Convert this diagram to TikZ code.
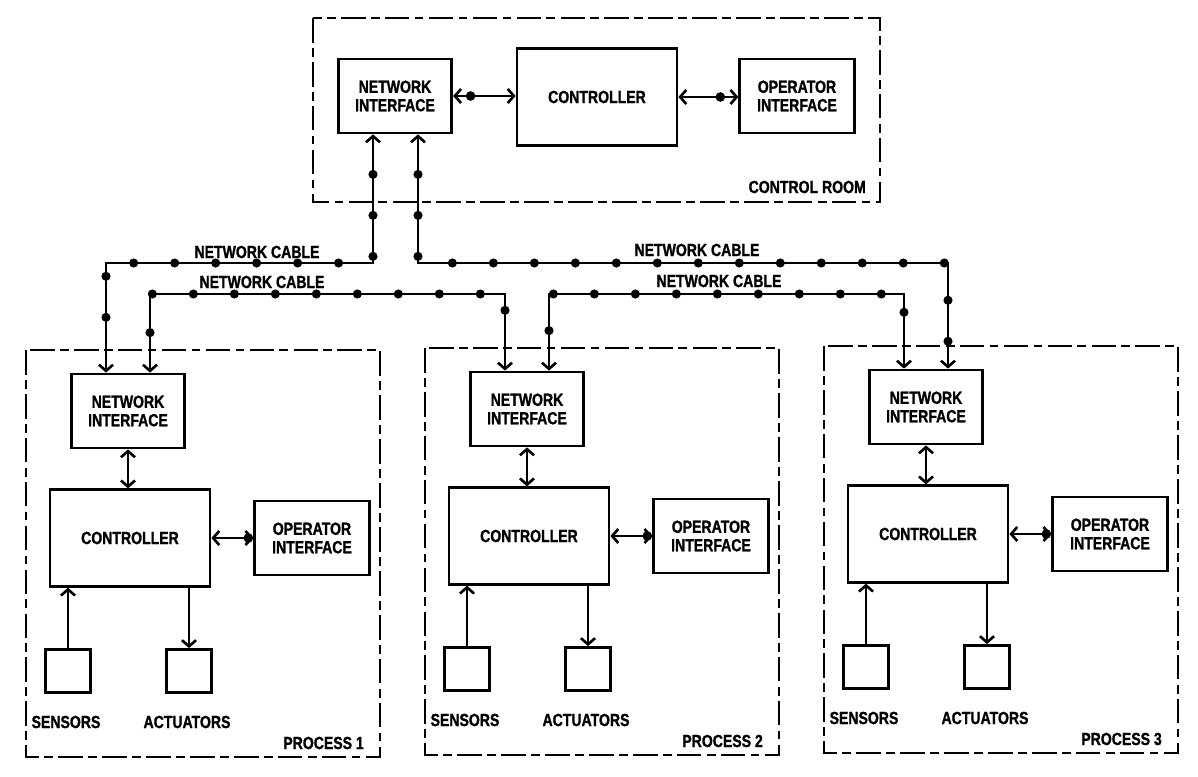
\documentclass[tikz,border=0pt]{standalone}
\usepackage{fontspec}
\setmainfont{Liberation Sans Bold}[FakeStretch=0.8, FakeBold=1.2]
\usepackage{tikz}
\usetikzlibrary{calc}
\usetikzlibrary{arrows.meta}
\usetikzlibrary{decorations.markings}

\begin{document}
\begin{tikzpicture} [x = 0.02cm, y = -0.02cm,
    >={Straight Barb[length=3.5pt,width=8pt]},
    every node/.style = {font = \fontsize{10}{10.5}\selectfont},
    blk/.style = {draw, line width = 1.6pt, align = center, inner sep = 0pt},
    ni/.style = {blk, minimum width = 2.27cm, minimum height = 1.48cm},
    ctrl/.style = {blk, minimum width = 3.2cm, minimum height = 1.93cm},
    oi/.style = {blk, minimum width = 2.29cm, minimum height = 1.48cm},
    io/.style = {blk, minimum width = 0.91cm, minimum height = 0.86cm},
    area/.style = {draw, line width = 1.5pt, dash pattern = on 14pt off 3pt on 5pt off 3pt},
    link/.style = {<->, line width = 1.5pt},
    feed/.style = {->, line width = 1.5pt},
    dot/.style = {circle, fill, inner sep = 0pt, minimum size = 5.5pt},
    cable/.style = {<->, line width = 1.5pt, postaction = {decorate},
      decoration = {markings, mark = between positions 0.8cm and -0.5cm step 0.82cm
        with {\fill circle [radius = 2.6pt];}}}]
    \useasboundingbox (0,0) rectangle (1198,777);

    % control room
    \draw [area] (313,18) rectangle (880,202);
    \node [ni] (ni0) at (395,96) {NETWORK\\INTERFACE};
    \node [ctrl] (ct0) at (597,97) {CONTROLLER};
    \node [oi] (oi0) at (797,96) {OPERATOR\\INTERFACE};
    \node [anchor = east] (crl) at (872,187) {CONTROL ROOM};
    \draw [link] (ni0.east) -- node [dot, pos = 0.28] {} (ni0.east -| ct0.west);
    \draw [link] (ct0.east) -- node [dot, pos = 0.7] {} (ct0.east -| oi0.west);
    \coordinate (ca0) at ($(ni0.south)+(-22,0)$);
    \coordinate (cb0) at ($(ni0.south)+(23,0)$);

    % processes
    \foreach \i/\dx/\dy in {1/0/0, 2/399/-2, 3/798/-4} {
      \begin{scope}[shift = {(\dx,\dy)}]
        \draw [area] (26,350) rectangle (380,757);
        \node [ni] (ni\i) at (128,411) {NETWORK\\INTERFACE};
        \node [ctrl] (ct\i) at (130,538) {CONTROLLER};
        \node [oi] (oi\i) at (312,538) {OPERATOR\\INTERFACE};
        \node [io] (se\i) at (68,671) {};
        \node [io] (ac\i) at (189,671) {};
        \node (sl\i) at (66,722) {SENSORS};
        \node (al\i) at (187,722) {ACTUATORS};
        \node [anchor = east] (pl\i) at (370,743) {PROCESS \i};
        \draw [link] (ni\i.south) -- (ni\i.south |- ct\i.north);
        \draw [link] (ct\i.east) -- node [dot, pos = 0.88] {} (oi\i.west);
        \draw [feed] (se\i.north) -- (se\i.north |- ct\i.south);
        \draw [feed] (ac\i.north |- ct\i.south) -- (ac\i.north);
        \coordinate (ca\i) at ($(ni\i.north)+(-22,0)$);
        \coordinate (cb\i) at ($(ni\i.north)+(22,0)$);
      \end{scope}
    }

    % network cables
    \draw [cable] (ca0) -- (ca0 |- 0,263) -| (ca1);
    \draw [cable] (cb0) -- (cb0 |- 0,263) -| (cb3);
    \draw [cable] (cb1) -- (cb1 |- 0,294) -| (ca2);
    \draw [cable] (cb2) -- (cb2 |- 0,294) -| (ca3);
    \node (nc1) at (257,252) {NETWORK CABLE};
    \node (nc2) at (262,282) {NETWORK CABLE};
    \node (nc3) at (697,250) {NETWORK CABLE};
    \node (nc4) at (719,281) {NETWORK CABLE};
  \end{tikzpicture}
\end{document}
